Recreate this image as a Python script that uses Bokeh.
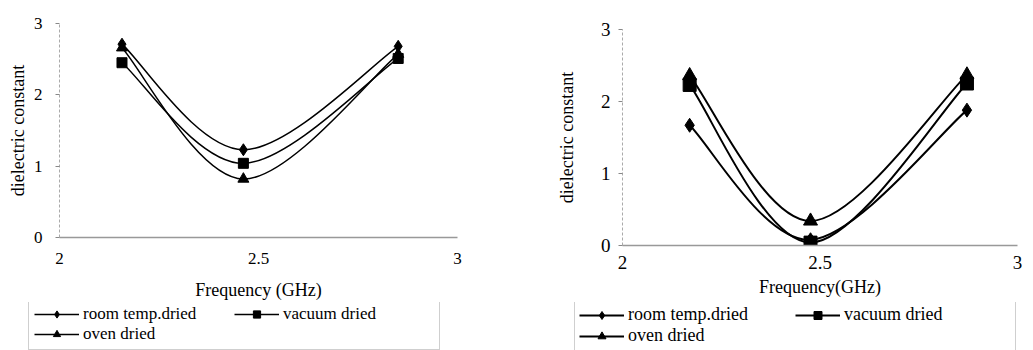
from bokeh.plotting import figure
from bokeh.layouts import row, column
from bokeh.models import Legend, LegendItem, FixedTicker, ColumnDataSource
from bokeh.embed import file_html
from bokeh.resources import INLINE

# ---------------- data ----------------
series_names = ["room temp.dried", "vacuum dried", "oven dried"]
markers = ["diamond", "square", "triangle"]

left_freq = [2.157, 2.462, 2.851]
left_room = [2.71, 1.23, 2.68]
left_vacuum = [2.45, 1.04, 2.51]
left_oven = [2.66, 0.82, 2.57]

right_freq = [2.170, 2.476, 2.872]
right_room = [1.67, 0.08, 1.88]
right_vacuum = [2.23, 0.04, 2.25]
right_oven = [2.36, 0.34, 2.37]

x_ticks = [2, 2.5, 3]
y_ticks = [0, 1, 2, 3]

FONT = "Liberation Serif"


def smooth_segments(xs, ys):
    """Bezier control points for a smoothed line through the data points."""
    n = len(xs)
    out = {k: [] for k in ("x0", "y0", "x1", "y1", "cx0", "cy0", "cx1", "cy1")}
    for i in range(n - 1):
        ip = max(i - 1, 0)
        inn = min(i + 2, n - 1)
        out["x0"].append(xs[i]); out["y0"].append(ys[i])
        out["x1"].append(xs[i + 1]); out["y1"].append(ys[i + 1])
        out["cx0"].append(xs[i] + (xs[i + 1] - xs[ip]) / 6.0)
        out["cy0"].append(ys[i] + (ys[i + 1] - ys[ip]) / 6.0)
        out["cx1"].append(xs[i + 1] - (xs[inn] - xs[i]) / 6.0)
        out["cy1"].append(ys[i + 1] - (ys[inn] - ys[i]) / 6.0)
    return out


def make_chart(freq, series, cfg):
    p = figure(
        frame_width=cfg["fw"], frame_height=cfg["fh"],
        min_border_left=cfg["bl"], min_border_right=cfg["br"],
        min_border_top=cfg["bt"], min_border_bottom=cfg["bb"],
        x_range=(2, 3), y_range=(0, 3),
        output_backend="svg", toolbar_location=None,
        background_fill_color="white", border_fill_color="white",
    )
    p.outline_line_color = None
    p.grid.visible = False

    p.xaxis.ticker = FixedTicker(ticks=x_ticks)
    p.yaxis.ticker = FixedTicker(ticks=y_ticks)
    p.xaxis.major_label_overrides = {2: "2", 2.5: "2.5", 3: "3"}
    for ax in (p.xaxis, p.yaxis):
        ax.minor_tick_line_color = None
        ax.major_tick_in = 0
        ax.major_label_text_font = FONT
        ax.major_label_text_color = "black"
        ax.axis_label_text_font = FONT
        ax.axis_label_text_font_style = "normal"
        ax.axis_label_text_color = "black"
    p.xaxis.axis_line_color = "#999999"
    p.xaxis.axis_line_width = 1.5
    p.xaxis.major_tick_out = 0
    p.xaxis.major_tick_line_color = None
    p.xaxis.major_label_standoff = cfg["xstand"]
    p.xaxis.major_label_text_font_size = cfg["tick_fs"]
    p.xaxis.axis_label = cfg["xlabel"]
    p.xaxis.axis_label_text_font_size = cfg["xlab_fs"]
    p.xaxis.axis_label_standoff = cfg["xlab_stand"]

    p.yaxis.axis_line_color = "#aaaaaa"
    p.yaxis.axis_line_dash = "3 2"
    p.yaxis.major_tick_out = 4
    p.yaxis.major_tick_line_color = "#888888"
    p.yaxis.major_label_standoff = cfg["ystand"]
    p.yaxis.major_label_text_font_size = cfg["tick_fs"]
    p.yaxis.axis_label = "dielectric constant"
    p.yaxis.axis_label_text_font_size = cfg["ylab_fs"]
    p.yaxis.axis_label_standoff = cfg["ylab_stand"]

    for mk, ys in zip(markers, series):
        seg = smooth_segments(freq, ys)
        p.bezier(x0="x0", y0="y0", x1="x1", y1="y1", cx0="cx0", cy0="cy0",
                 cx1="cx1", cy1="cy1", source=ColumnDataSource(seg),
                 line_color="black", line_width=cfg["lw"])
        p.scatter(freq, ys, marker=mk, size=cfg["msize"][mk],
                  fill_color="black", line_color="black")
    return p


def make_strip(freq, series, cfg):
    lg = figure(
        width=cfg["sw"], height=cfg["sh"],
        min_border_left=0, min_border_right=0,
        min_border_top=0, min_border_bottom=0,
        x_range=(0, 1), y_range=(0, 1),
        x_axis_location=None, y_axis_location=None,
        output_backend="svg", toolbar_location=None,
        background_fill_color="white", border_fill_color="white",
    )
    lg.grid.visible = False
    lg.outline_line_color = None
    items = []
    for name, mk, ys in zip(series_names, markers, series):
        # the series data lie outside this strip's ranges: only the legend shows them
        ln = lg.line(freq, ys, line_color="black", line_width=cfg["lw"])
        sc = lg.scatter(freq, ys, marker=mk, fill_color="black", line_color="black")
        items.append(LegendItem(label=name, renderers=[ln, sc]))
    legend = Legend(
        items=items, orientation="horizontal", ncols=2,
        location=cfg["leg_loc"],
        border_line_color="#a0a0a0", border_line_width=1,
        background_fill_color="white", background_fill_alpha=1,
        padding=cfg["pad"], margin=0, spacing=0,
        glyph_width=45, glyph_height=cfg["rowh"],
        label_height=cfg["rowh"], label_width=cfg["lab_w"], label_standoff=4,
        label_text_font=FONT, label_text_font_size=cfg["leg_fs"],
        label_text_color="black",
    )
    lg.add_layout(legend)
    return lg


left_cfg = dict(
    fw=398, fh=214, bl=59, br=41, bt=23, bb=62,
    xstand=15, tick_fs="17px", xlabel="Frequency (GHz)", xlab_fs="18px",
    xlab_stand=13, ystand=13, ylab_fs="18px", ylab_stand=3,
    lw=1.5, msize={"diamond": 12, "square": 10, "triangle": 11},
    sw=498, sh=51, pad=5, rowh=18, leg_fs="17px", lab_w=151, leg_loc=(28, 3),
)
right_cfg = dict(
    fw=395, fh=216, bl=124, br=16, bt=29, bb=54,
    xstand=10, tick_fs="19px", xlabel="Frequency(GHz)", xlab_fs="18px",
    xlab_stand=5, ystand=8, ylab_fs="18px", ylab_stand=21,
    lw=2, msize={"diamond": 14, "square": 13, "triangle": 14},
    sw=535, sh=51, pad=4, rowh=20, leg_fs="18px", lab_w=167, leg_loc=(76, 2),
)

left_series = [left_room, left_vacuum, left_oven]
right_series = [right_room, right_vacuum, right_oven]

# each plot sits alone in its own column so that plot frames are not aligned
charts = row(column(make_chart(left_freq, left_series, left_cfg)),
             column(make_chart(right_freq, right_series, right_cfg)), spacing=0)
strips = row(column(make_strip(left_freq, left_series, left_cfg)),
             column(make_strip(right_freq, right_series, right_cfg)), spacing=0)
layout = column(charts, strips, spacing=0)
open("out.html", "w").write(file_html(layout, INLINE))
